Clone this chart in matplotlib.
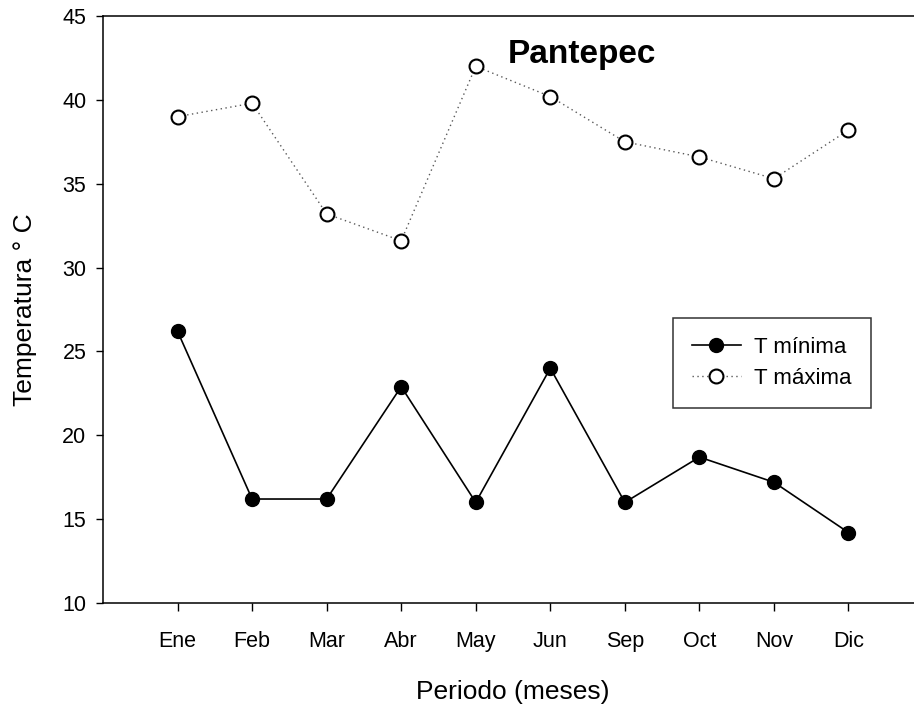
import matplotlib
matplotlib.use('Agg')
import matplotlib.pyplot as plt

plt.rcParams['font.family'] = ['Liberation Sans', 'DejaVu Sans']

# Datos mensuales de temperatura
meses = ['Ene', 'Feb', 'Mar', 'Abr', 'May', 'Jun', 'Sep', 'Oct', 'Nov', 'Dic']
t_minima = [26.2, 16.2, 16.2, 22.9, 16.0, 24.0, 16.0, 18.7, 17.2, 14.2]
t_maxima = [39.0, 39.8, 33.2, 31.6, 42.0, 40.2, 37.5, 36.6, 35.3, 38.2]

fig = plt.figure(figsize=(9.14, 7.06), dpi=100)
# el eje derecho queda fuera del lienzo
ax = fig.add_axes([0.1127, 0.1459, 0.8972, 0.8314])

x = list(range(1, len(meses) + 1))

ax.plot(x, t_minima, color='black', lw=1.2, marker='o', ms=10,
        mfc='black', mec='black', label='T mínima')
ax.plot(x, t_maxima, color='0.35', lw=1.0, linestyle=(0, (1, 2.5)),
        marker='o', ms=10, mfc='white', mec='black', mew=1.5,
        label='T máxima')

ax.set_xlim(0, 11)
ax.set_ylim(10, 45)
ax.set_xticks(x)
ax.set_xticklabels(meses)
ax.set_yticks(range(10, 50, 5))

ax.spines['right'].set_visible(False)
for s in ['left', 'bottom', 'top']:
    ax.spines[s].set_linewidth(1.1)

ax.tick_params(axis='x', direction='out', length=6, width=1, labelsize=15.5, pad=14)
ax.tick_params(axis='y', direction='out', length=5, width=1, labelsize=15.5, pad=7)

ax.set_xlabel('Periodo (meses)', fontsize=19, labelpad=20)
ax.set_ylabel('Temperatura ° C', fontsize=19, labelpad=18)

fig.text(582 / 914, 1 - 63 / 706, 'Pantepec', fontsize=24, fontweight='bold',
         ha='center', va='baseline')

leg = ax.legend(loc='upper left', bbox_to_anchor=(673 / 914, 1 - 318 / 706),
                bbox_transform=fig.transFigure, borderaxespad=0,
                fontsize=16, frameon=True, fancybox=False, edgecolor='black',
                handlelength=2.2, handletextpad=0.6, borderpad=0.85,
                labelspacing=0.45)
leg.get_frame().set_linewidth(1.1)

fig.savefig('out.png', dpi=100)
